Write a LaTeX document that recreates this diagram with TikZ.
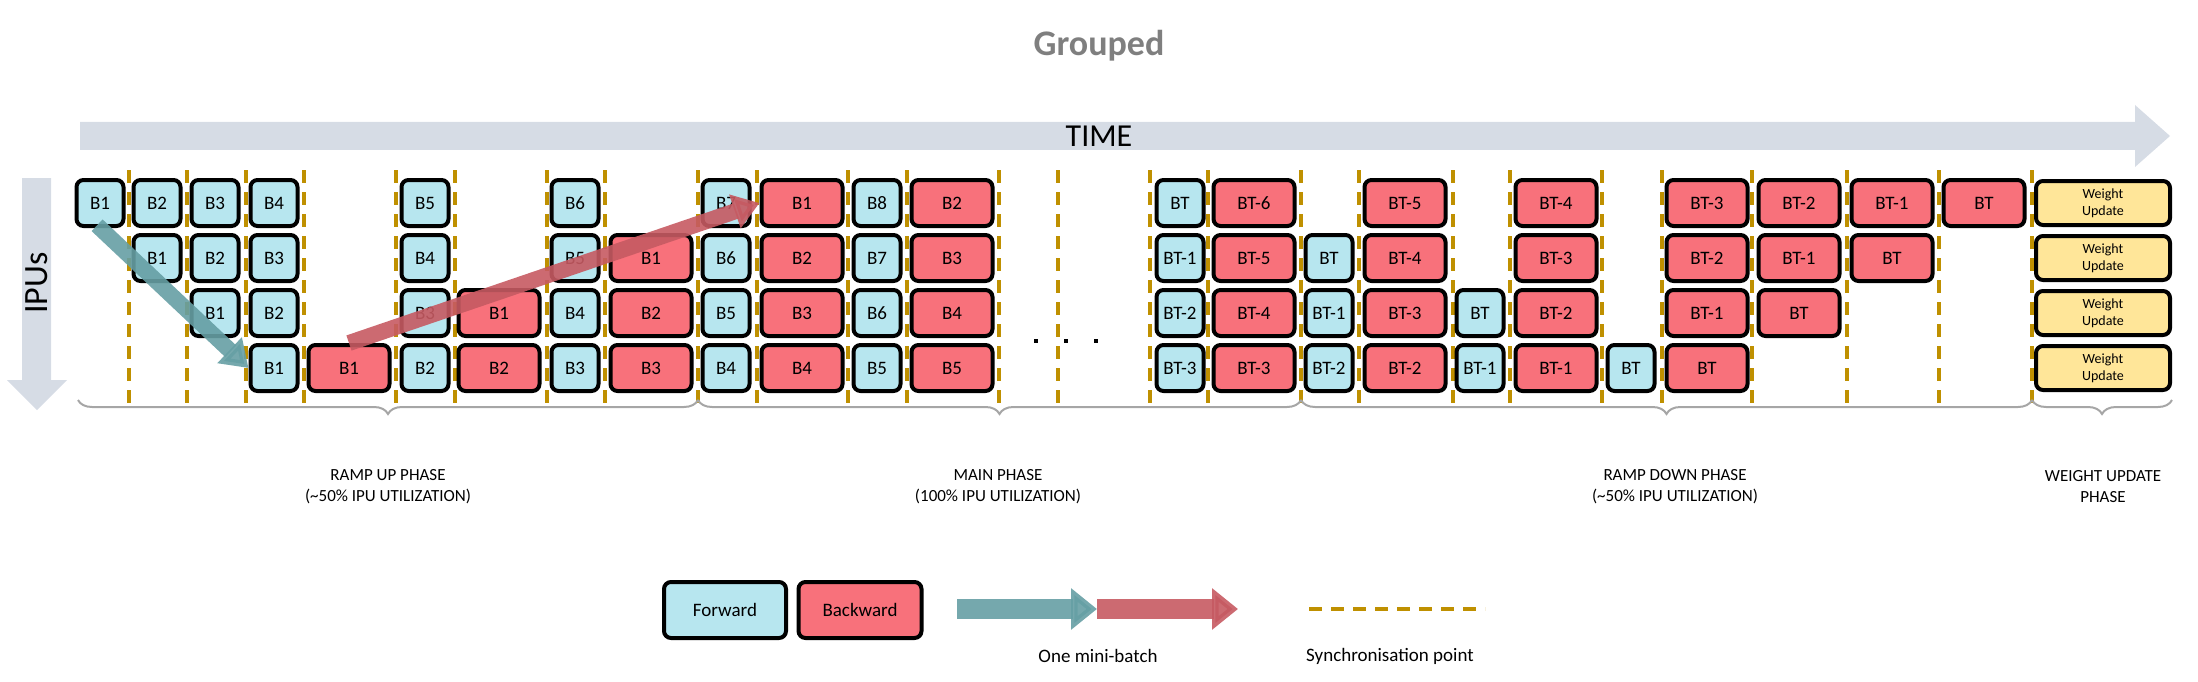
\documentclass[tikz,border=0pt]{standalone}
\usepackage{fontspec}
\setmainfont{Carlito}
\usetikzlibrary{arrows.meta,decorations.pathreplacing}
\definecolor{fw}{HTML}{B7E6EF}
\definecolor{bw}{HTML}{F8717B}
\definecolor{wu}{HTML}{FFE699}
\definecolor{sync}{HTML}{BF9000}
\definecolor{axis}{HTML}{D6DCE5}
\definecolor{brc}{HTML}{A6A6A6}
\definecolor{ttl}{HTML}{7F7F7F}
\tikzset{
 box/.style={draw=black,line width=4pt,rounded corners=7pt,minimum height=46pt,inner sep=0pt,font=\fontsize{19}{20}\selectfont},
 F/.style={box,fill=fw,minimum width=47pt},
 B/.style={box,fill=bw,minimum width=81pt},
 W/.style={box,fill=wu,minimum width=134pt,minimum height=44pt,align=center,font=\fontsize{14}{17}\selectfont},
 syncl/.style={draw=sync,line width=4pt,dash pattern=on 13pt off 9pt},
 br/.style={draw=brc,line width=2pt,decorate,decoration={brace,mirror,amplitude=14pt}},
 lbl/.style={font=\fontsize{17}{21}\selectfont,align=center},
 fwarr/.style={line width=16pt,draw=fw!70!teal!80!black,-{Triangle[width=34pt,length=26pt]},opacity=0.9},
 bwarr/.style={line width=16pt,draw=bw!80!black,-{Triangle[width=34pt,length=26pt]},opacity=0.9},
}
\begin{document}
\begin{tikzpicture}[x=1pt,y=-1pt]
\useasboundingbox (0,0) rectangle (2198,682);
% title
\node[font=\bfseries\fontsize{36}{40}\selectfont,text=ttl] (title) at (1099,46) {Grouped};
% time arrow
\fill[axis] (80,122) rectangle (2135,150) (2135,105) -- (2170,136) -- (2135,167) -- cycle;
\node[font=\fontsize{32}{36}\selectfont] (time) at (1099,136) {TIME};
% IPUs arrow
\fill[axis] (22,178) rectangle (51,380) (7,380) -- (67,380) -- (37,410) -- cycle;
\node[font=\fontsize{34}{38}\selectfont,rotate=90] (ipus) at (37,283) {IPUs};
% sync lines
\foreach \x in {129,187,246,304,396,455,547,605,698,757,848,907,999,1058,1150,1208,1301,1359,1453,1510,1602,1662,1752,1847,1939,2032}
  \draw[syncl] (\x,170) -- (\x,405);
% dots
\foreach \x in {1036,1066,1096} \fill (\x-2,339) rectangle (\x+2,343);
% boxes
\def\colx{{0,100,157,215,274,349,425,499,575,651,726,802,877,952,1180,1254,1329,1405,1480,1556,1631,1707,1799,1892,1984,2103}}
\def\rowy{{0,203,258,313,368}}
\foreach \r/\c/\t/\l in {
 1/1/F/B1,1/2/F/B2,1/3/F/B3,1/4/F/B4,1/6/F/B5,1/8/F/B6,1/10/F/B7,1/11/B/B1,1/12/F/B8,1/13/B/B2,
 1/14/F/BT,1/15/B/BT-6,1/17/B/BT-5,1/19/B/BT-4,1/21/B/BT-3,1/22/B/BT-2,1/23/B/BT-1,1/24/B/BT,
 2/2/F/B1,2/3/F/B2,2/4/F/B3,2/6/F/B4,2/8/F/B5,2/9/B/B1,2/10/F/B6,2/11/B/B2,2/12/F/B7,2/13/B/B3,
 2/14/F/BT-1,2/15/B/BT-5,2/16/F/BT,2/17/B/BT-4,2/19/B/BT-3,2/21/B/BT-2,2/22/B/BT-1,2/23/B/BT,
 3/3/F/B1,3/4/F/B2,3/6/F/B3,3/7/B/B1,3/8/F/B4,3/9/B/B2,3/10/F/B5,3/11/B/B3,3/12/F/B6,3/13/B/B4,
 3/14/F/BT-2,3/15/B/BT-4,3/16/F/BT-1,3/17/B/BT-3,3/18/F/BT,3/19/B/BT-2,3/21/B/BT-1,3/22/B/BT,
 4/4/F/B1,4/5/B/B1,4/6/F/B2,4/7/B/B2,4/8/F/B3,4/9/B/B3,4/10/F/B4,4/11/B/B4,4/12/F/B5,4/13/B/B5,
 4/14/F/BT-3,4/15/B/BT-3,4/16/F/BT-2,4/17/B/BT-2,4/18/F/BT-1,4/19/B/BT-1,4/20/F/BT,4/21/B/BT}{
  \pgfmathsetmacro\xx{\colx[\c]}\pgfmathsetmacro\yy{\rowy[\r]}
  \node[\t] (r\r c\c) at (\xx,\yy) {\l};
}
\foreach \r in {1,...,4}{
  \pgfmathsetmacro\yy{\rowy[\r]}
  \node[W] (w\r) at (2103,\yy) {Weight\\Update};
}
% mini-batch arrows
\draw[fwarr,shorten <=-4pt] (r1c1.south) -- (r4c4.west);
\draw[bwarr] (r4c5.north) -- (r1c11.west);
% braces
\draw[br] (78,400) -- (698,400);
\draw[br] (698,400) -- (1301,400);
\draw[br] (1301,400) -- (2032,400);
\draw[br] (2032,400) -- (2172,400);
\node[lbl] (p1) at (388,487) {RAMP UP PHASE\\(\textasciitilde50\% IPU UTILIZATION)};
\node[lbl] (p2) at (998,487) {MAIN PHASE\\(100\% IPU UTILIZATION)};
\node[lbl] (p3) at (1675,487) {RAMP DOWN PHASE\\(\textasciitilde50\% IPU UTILIZATION)};
\node[lbl] (p4) at (2103,487) {WEIGHT UPDATE\\PHASE};
% legend
\node[F,minimum width=122pt,minimum height=56pt] (lf) at (725,610) {Forward};
\node[B,minimum width=123pt,minimum height=56pt] (lb) at (860,610) {Backward};
\coordinate (a0) at (957,609);
\coordinate (a1) at (1097,609);
\coordinate (a2) at (1238,609);
\draw[fwarr,line width=20pt,-{Triangle[width=40pt,length=26pt]}] (a0) -- (a1);
\draw[bwarr,line width=20pt,-{Triangle[width=40pt,length=26pt]}] (a1) -- (a2);
\node[lbl,font=\fontsize{19}{22}\selectfont] (mb) at (1098,656) {One mini-batch};
\coordinate (s0) at (1309,609);
\coordinate (s1) at (1485,609);
\draw[syncl] (s0) -- (s1);
\node[lbl,font=\fontsize{19}{22}\selectfont] (sp) at (1390,656) {Synchronisation point};
\end{tikzpicture}
\end{document}
